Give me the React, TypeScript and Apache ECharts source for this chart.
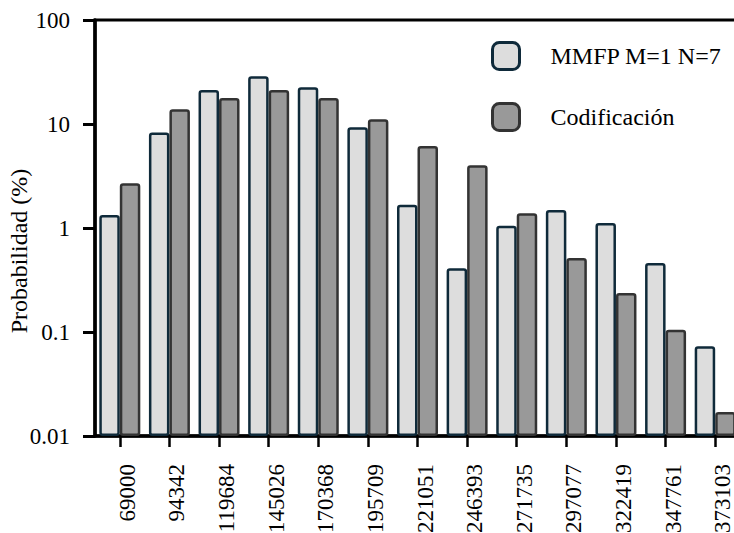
import React, { useEffect, useRef } from "react";
import * as echarts from "echarts";

const categories = ["69000", "94342", "119684", "145026", "170368", "195709", "221051", "246393", "271735", "297077", "322419", "347761", "373103"];
const mmfpValues = [1.33, 8.3, 21.2, 28.8, 22.5, 9.3, 1.67, 0.41, 1.05, 1.49, 1.12, 0.46, 0.073];
const codifValues = [2.69, 13.9, 17.8, 21.2, 17.8, 11.1, 6.14, 4.01, 1.39, 0.515, 0.237, 0.105, 0.017];
const seriesNames = ["MMFP M=1 N=7", "Codificación"];
const yMin = 0.01;
const yMax = 100;

const FONT = "'Liberation Serif', 'Times New Roman', serif";

export default function App() {
  const ref = useRef<HTMLDivElement>(null);
  useEffect(() => {
    if (!ref.current) return;
    const chart = echarts.init(ref.current, undefined, { renderer: "svg" });
    const lightStyle = { color: "#dddddd", borderColor: "#0f2a3a", borderWidth: 2.5, borderRadius: 2 };
    const darkStyle = { color: "#999999", borderColor: "#333333", borderWidth: 2.5, borderRadius: 2 };
    const baseData = categories.map(() => yMin);
    const bw = 20.5;
    chart.setOption({
      animation: false,
      backgroundColor: "#ffffff",
      textStyle: { fontFamily: FONT, color: "#000" },
      grid: {
        left: 95,
        top: 20,
        width: 645,
        height: 416,
        outerBoundsMode: "none",
        containLabel: false,
        show: true,
        borderColor: "#000",
        borderWidth: 3,
        backgroundColor: "transparent",
      },
      legend: {
        orient: "vertical",
        left: 491,
        top: 41,
        padding: 0,
        itemWidth: 27,
        itemHeight: 27,
        itemGap: 31,
        icon: "roundRect",
        textStyle: { fontFamily: FONT, fontSize: 24, color: "#000", padding: [0, 0, 0, 26] },
        data: [
          { name: seriesNames[0], itemStyle: { color: "#dddddd", borderColor: "#0f2a3a", borderWidth: 3 } },
          { name: seriesNames[1], itemStyle: { color: "#999999", borderColor: "#333333", borderWidth: 3 } },
        ],
      },
      xAxis: {
        type: "category",
        data: categories,
        boundaryGap: true,
        axisLine: { show: true, lineStyle: { color: "#000", width: 3.5 } },
        axisTick: { show: true, alignWithLabel: true, length: 11, lineStyle: { color: "#000", width: 2.5 } },
        axisLabel: {
          rotate: 90,
          interval: 0,
          margin: 28,
          fontFamily: FONT,
          fontSize: 23,
          color: "#000",
          verticalAlign: "top",
          lineHeight: 15,
        },
      },
      yAxis: {
        type: "log",
        logBase: 10,
        min: yMin,
        max: yMax,
        name: "Probabilidad (%)",
        nameLocation: "middle",
        nameRotate: 90,
        nameGap: 64,
        nameMoveOverlap: false,
        nameTextStyle: { fontFamily: FONT, fontSize: 24, color: "#000", padding: [0, 46, 0, 0] },
        splitLine: { show: false },
        axisLine: { show: true, lineStyle: { color: "#000", width: 3.5 } },
        axisTick: { show: true, inside: false, length: 12, lineStyle: { color: "#000", width: 3 } },
        axisLabel: {
          margin: 25,
          fontFamily: FONT,
          fontSize: 23,
          color: "#000",
          formatter: (v: number) => String(parseFloat(Number(v).toPrecision(3))),
        },
      },
      series: [
        {
          name: "base-a",
          type: "bar",
          stack: "a",
          data: baseData,
          barWidth: bw,
          barGap: "0%",
          itemStyle: { color: "transparent", borderWidth: 0 },
          silent: true,
        },
        {
          name: seriesNames[0],
          type: "bar",
          stack: "a",
          data: mmfpValues.map((v) => v - yMin),
          barWidth: bw,
          barGap: "0%",
          itemStyle: lightStyle,
        },
        {
          name: "base-b",
          type: "bar",
          stack: "b",
          data: baseData,
          barWidth: bw,
          barGap: "0%",
          itemStyle: { color: "transparent", borderWidth: 0 },
          silent: true,
        },
        {
          name: seriesNames[1],
          type: "bar",
          stack: "b",
          data: codifValues.map((v) => v - yMin),
          barWidth: bw,
          barGap: "0%",
          itemStyle: darkStyle,
        },
      ],
    });
    return () => chart.dispose();
  }, []);
  return (
    <div
      ref={ref}
      style={{ position: "absolute", left: 0, top: 0, width: 734, height: 533, background: "#fff" }}
    />
  );
}
